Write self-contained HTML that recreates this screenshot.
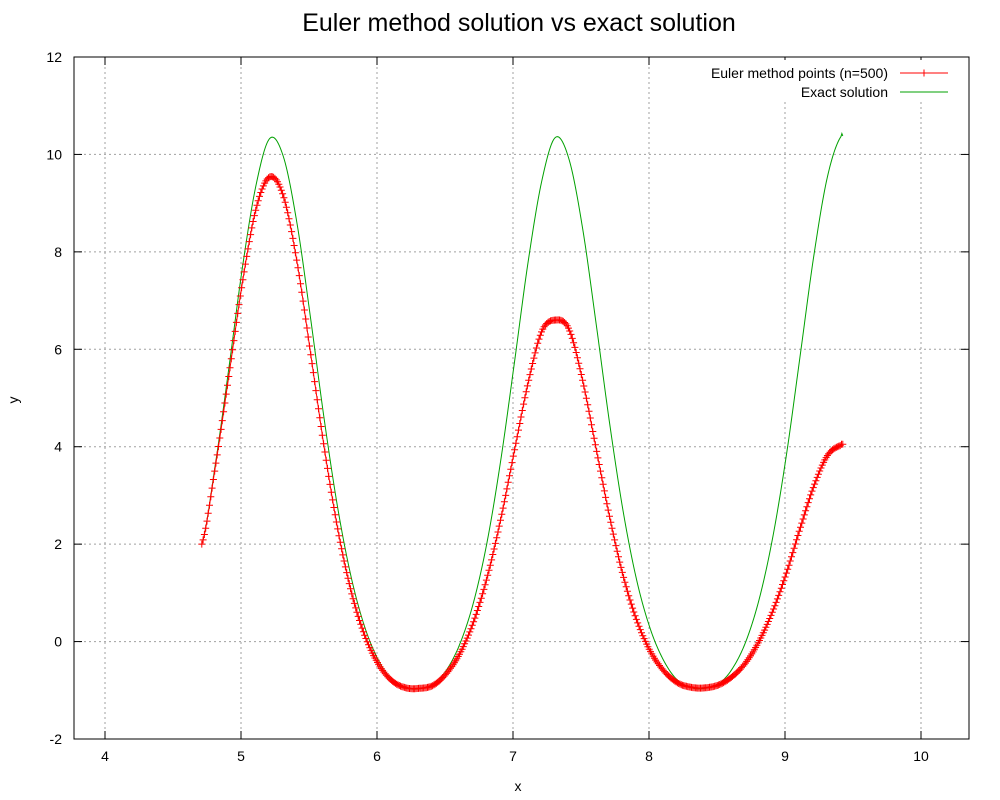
<!DOCTYPE html>
<html><head><meta charset="utf-8"><style>
body{margin:0;background:#fff;}
svg{display:block;font-family:"Liberation Sans",sans-serif;}
</style></head><body>
<svg id="chart" width="1000" height="800">
<text x="519" y="31" font-size="25" text-anchor="middle">Euler method solution vs exact solution</text>
<text x="518" y="791" font-size="14" text-anchor="middle">x</text>
<text x="18" y="400" font-size="14" text-anchor="middle" transform="rotate(-90 18 400)">y</text>
<g id="grid"></g>
<g id="axes"></g>
<g id="series"></g>
<g id="legend">
<rect x="655" y="60" width="310" height="42" fill="#fff"/>
<text x="888" y="78" font-size="14" text-anchor="end">Euler method points (n=500)</text>
<line x1="900" y1="73" x2="948" y2="73" stroke="#f00"/>
<path d="M924 69.5V76.5M920.5 73H927.5" stroke="#f00"/>
<text x="888" y="97" font-size="14" text-anchor="end">Exact solution</text>
<line x1="900" y1="92" x2="948" y2="92" stroke="#00a000"/>
</g>
<rect x="74" y="57" width="895" height="682" fill="none" stroke="#000"/>
</svg>
<script>
const xStart = 4.712, xStep = 0.1, xEnd = 9.425;
const exactY = [2.0,3.65,5.64,7.71,9.39,10.33,9.95,8.58,6.63,4.56,2.73,1.30,0.28,-0.39,-0.79,-0.95,-0.97,-0.88,-0.58,-0.03,0.83,2.08,3.76,5.76,7.81,9.46,10.35,9.90,8.48,6.51,4.45,2.64,1.23,0.24,-0.41,-0.80,-0.95,-0.96,-0.87,-0.56,0.00,0.89,2.17,3.86,5.88,7.92,9.54,10.37,10.38];
const eulerY = [2.0,3.60,5.48,7.40,8.90,9.54,9.14,7.79,5.91,3.98,2.30,1.01,0.11,-0.47,-0.81,-0.95,-0.96,-0.90,-0.65,-0.23,0.42,1.34,2.54,3.94,5.32,6.37,6.60,6.41,5.36,3.95,2.54,1.33,0.42,-0.21,-0.61,-0.85,-0.94,-0.95,-0.89,-0.72,-0.43,0.02,0.64,1.42,2.33,3.19,3.82,4.03,4.05];
const xTicks = [4,5,6,7,8,9,10];
const yTicks = [-2,0,2,4,6,8,10,12];
const eulerCount = 500;

const L=74,R=969,T=57,B=739;
const X0=3.772, X1=10.353, Y0=-2, Y1=12;
const sx=v=>L+(v-X0)/(X1-X0)*(R-L);
const sy=v=>B-(v-Y0)/(Y1-Y0)*(B-T);
const NS='http://www.w3.org/2000/svg';
function mk(tag,attrs,parent){const e=document.createElementNS(NS,tag);for(const k in attrs)e.setAttribute(k,attrs[k]);parent.appendChild(e);return e;}
const xs = exactY.map((_,i)=> i===exactY.length-1 ? xEnd : xStart+i*xStep);
function spline(ys,x){
  let i=0;while(i<xs.length-2&&x>xs[i+1])i++;
  const x0=xs[i],x1=xs[i+1],t=Math.min(1,Math.max(0,(x-x0)/(x1-x0)));
  const p0=ys[Math.max(0,i-1)],p1=ys[i],p2=ys[i+1],p3=ys[Math.min(ys.length-1,i+2)];
  return 0.5*((2*p1)+(-p0+p2)*t+(2*p0-5*p1+4*p2-p3)*t*t+(-p0+3*p1-3*p2+p3)*t*t*t);
}
const grid=document.getElementById('grid'),axes=document.getElementById('axes'),series=document.getElementById('series');
xTicks.forEach(v=>{
  const x=sx(v);
  const g=mk('line',{x1:x,y1:T,x2:x,y2:B,stroke:'#a0a0a0','stroke-dasharray':'2,3'},grid);
  
  
  mk('line',{x1:x,y1:B,x2:x,y2:B-8,stroke:'#000'},axes);
  mk('line',{x1:x,y1:T,x2:x,y2:T+8,stroke:'#000'},axes);
  const t=mk('text',{x:x,y:B+22,'font-size':14,'text-anchor':'middle'},axes);t.textContent=v;
  
  
});
yTicks.forEach(v=>{
  const y=sy(v);
  const g=mk('line',{x1:L,y1:y,x2:R,y2:y,stroke:'#a0a0a0','stroke-dasharray':'2,3'},grid);
  
  
  mk('line',{x1:L,y1:y,x2:L+8,y2:y,stroke:'#000'},axes);
  mk('line',{x1:R,y1:y,x2:R-8,y2:y,stroke:'#000'},axes);
  const t=mk('text',{x:L-12,y:y+5,'font-size':14,'text-anchor':'end'},axes);t.textContent=v;
  
  
});
let d='';for(let i=0;i<=700;i++){const x=xs[0]+(xs[xs.length-1]-xs[0])*i/700;d+=(i?'L':'M')+sx(x).toFixed(2)+' '+sy(spline(exactY,x)).toFixed(2);}
const ex=mk('path',{d:d,fill:'none',stroke:'#00a000','stroke-width':1},series);


let d2='',md='';
for(let i=0;i<=eulerCount;i++){const x=xs[0]+(xs[xs.length-1]-xs[0])*i/eulerCount;const px=sx(x),py=sy(spline(eulerY,x));
  d2+=(i?'L':'M')+px.toFixed(2)+' '+py.toFixed(2);
  md+='M'+px.toFixed(1)+' '+(py-3.5).toFixed(1)+'v7M'+(px-3.5).toFixed(1)+' '+py.toFixed(1)+'h7';}
const el=mk('path',{d:d2,fill:'none',stroke:'#f00','stroke-width':1},series);


const em=mk('path',{d:md,fill:'none',stroke:'#f00','stroke-width':1},series);


</script>
</body></html>
